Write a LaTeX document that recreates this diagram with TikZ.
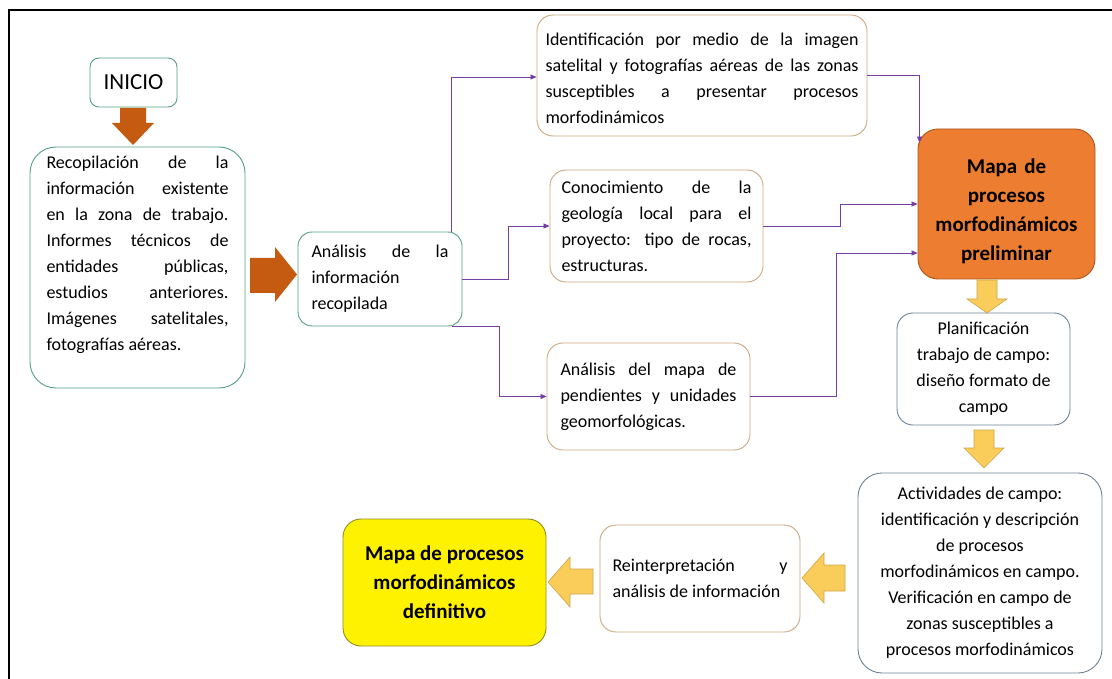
\documentclass[tikz,border=0pt]{standalone}
\usepackage{fontspec}
\setmainfont{Carlito}
\usetikzlibrary{arrows.meta,calc}
\definecolor{gborder}{RGB}{84,160,130}
\definecolor{tborder}{RGB}{205,168,128}
\definecolor{bborder}{RGB}{112,132,152}
\definecolor{conncol}{RGB}{120,60,165}
\definecolor{brownarrow}{RGB}{197,90,17}
\definecolor{orangefill}{RGB}{237,125,49}
\definecolor{orangeborder}{RGB}{175,85,25}
\definecolor{yarrowfill}{RGB}{250,205,90}
\definecolor{yarrowborder}{RGB}{205,165,75}
\definecolor{yboxborder}{RGB}{140,140,40}
\tikzset{
  txt/.style={font=\fontsize{18}{26}\selectfont},
  boldtxt/.style={font=\fontsize{21}{29}\selectfont\bfseries},
  basebox/.style={draw, line width=0.9pt, inner sep=0pt, fill=white},
  greenbox/.style={basebox, draw=gborder, txt},
  tanbox/.style={basebox, draw=tborder, txt},
  bluebox/.style={basebox, draw=bborder, txt, align=center},
  conn/.style={draw=conncol, line width=0.8pt, -{Triangle[length=6pt,width=5pt]}},
  brownblock/.style={fill=brownarrow, draw=none},
  yblock/.style={fill=yarrowfill, draw=yarrowborder, line width=0.6pt},
}
\begin{document}
\begin{tikzpicture}[x=1pt,y=-1pt]
\useasboundingbox (0,0) rectangle (1112,679);
\fill[white] (0,0) rectangle (1112,679);
% frame
\draw[line width=2pt] (8,10) -- (1112,10);
\draw[line width=2pt] (9,10) -- (9,679);

% nodes
\node[greenbox, rounded corners=9pt, minimum width=87pt, minimum height=49pt,
      font=\fontsize{23}{26}\selectfont] (inicio) at (133.5,82.5) {INICIO};
\node[greenbox, rounded corners=26pt, minimum width=215pt, minimum height=241pt,
      text width=182pt, align=justify, text depth=210pt] (recop) at (137.5,267.5)
  {Recopilación de la\linebreak información existente\linebreak en la zona de trabajo.\linebreak Informes técnicos de\linebreak entidades públicas,\linebreak estudios anteriores.\linebreak Imágenes satelitales,\linebreak fotografías aéreas.};
\node[greenbox, rounded corners=14pt, minimum width=164pt, minimum height=94pt,
      text width=137pt, align=justify] (anal) at (380,279)
  {Análisis de la\linebreak información\\ recopilada};
\node[tanbox, rounded corners=16pt, minimum width=330pt, minimum height=121pt,
      text width=313pt, align=justify, text height=19pt] (ident) at (702,75.5)
  {Identificación por medio de la imagen\linebreak satelital y fotografías aéreas de las zonas\linebreak susceptibles a presentar procesos\linebreak morfodinámicos};
\node[tanbox, rounded corners=16pt, minimum width=213pt, minimum height=112pt,
      text width=190pt, align=justify] (conoc) at (656.5,226)
  {Conocimiento de la\linebreak geología local para el\linebreak proyecto: tipo de rocas,\linebreak estructuras.};
\node[tanbox, rounded corners=16pt, minimum width=203pt, minimum height=107pt,
      text width=176pt, align=justify] (pend) at (648.5,396.5)
  {Análisis del mapa de\linebreak pendientes y unidades\linebreak geomorfológicas.};
\node[draw=orangeborder, fill=orangefill, line width=0.9pt, rounded corners=20pt,
      minimum width=177pt, minimum height=150pt, inner sep=0pt, boldtxt, align=center,
      text width=170pt, text height=30pt] (prelim) at (1006.5,204)
  {Mapa de\\procesos\\morfodinámicos\\preliminar};
\node[bluebox, rounded corners=16pt, minimum width=173pt, minimum height=112pt] (plan) at (983.5,369)
  {Planificación\\trabajo de campo:\\diseño formato de\\campo};
\node[bluebox, rounded corners=24pt, minimum width=244pt, minimum height=200pt] (activ) at (980,573)
  {Actividades de campo:\\identificación y descripción\\de procesos\\morfodinámicos en campo.\\Verificación en campo de\\zonas susceptibles a\\procesos morfodinámicos};
\node[tanbox, rounded corners=16pt, minimum width=200pt, minimum height=107pt,
      text width=175pt, align=justify] (reint) at (700,578.5)
  {Reinterpretación y\linebreak análisis de información};
\node[draw=yboxborder, fill=yellow, line width=0.9pt, rounded corners=18pt,
      minimum width=203pt, minimum height=127pt, inner sep=0pt, boldtxt, align=center] (defin) at (444.5,582.5)
  {Mapa de procesos\\morfodinámicos\\definitivo};

% purple connectors
\draw[conn] ([xshift=71pt]anal.north) |- ([yshift=-1.5pt]ident.west);
\draw[conn] (anal.east) -- ++(46,0) |- (conoc.west);
\draw[conn] ([xshift=72pt]anal.south) -- ++(47,0) |- (pend.west);
\draw[conn] (ident.east) -| ([xshift=2pt,yshift=-14pt]prelim.north west);
\draw[conn] (conoc.east) -- ++(77,0) |- (prelim.west);
\draw[conn] (pend.east) -- ++(86,0) |- ([yshift=-49pt]prelim.west);

% block arrows
\path[brownblock] (120,108) -- (146,108) -- (146,123) -- (154,123) -- (133,145) -- (112,123) -- (120,123) -- cycle;
\path[brownblock] (250,258) -- (275,258) -- (275,247) -- (297,274.5) -- (275,302) -- (275,293) -- (250,293) -- cycle;
\draw[yblock] (977,280) -- (997,280) -- (997,299) -- (1007,299) -- (987,313) -- (967,299) -- (977,299) -- cycle;
\draw[yblock] (974,430) -- (994,430) -- (994,448) -- (1004,448) -- (984,468) -- (964,448) -- (974,448) -- cycle;
\draw[yblock] (845,565) -- (824,565) -- (824,553) -- (802,578) -- (824,603) -- (824,591) -- (845,591) -- cycle;
\draw[yblock] (593,569) -- (570,569) -- (570,557) -- (548,582) -- (570,607) -- (570,594) -- (593,594) -- cycle;
\end{tikzpicture}
\end{document}
